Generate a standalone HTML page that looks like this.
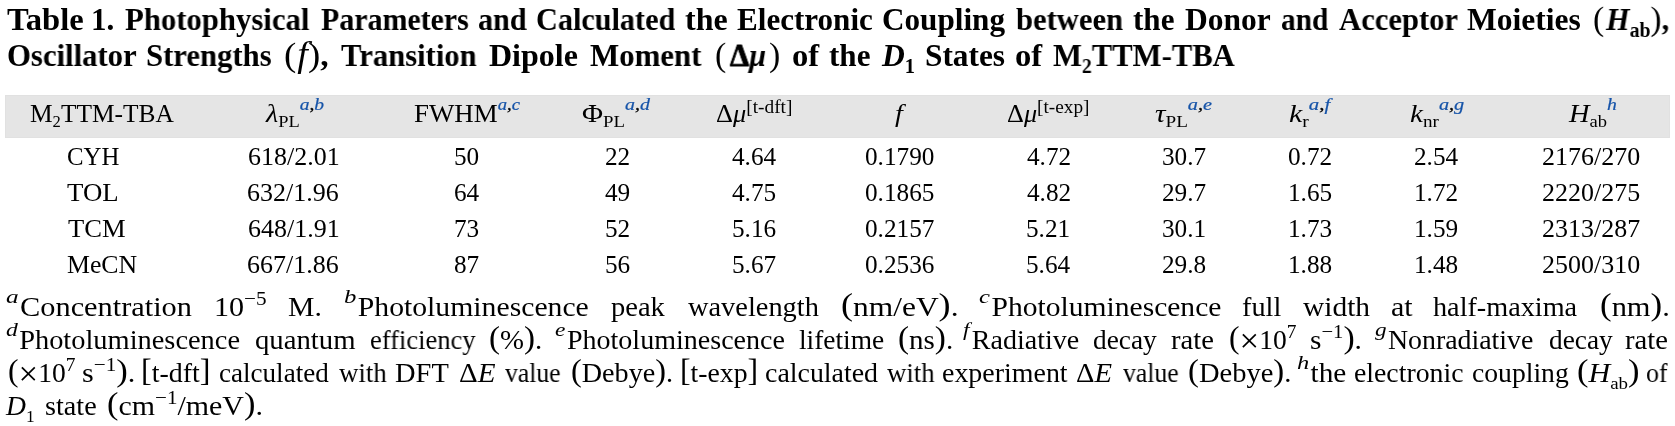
<!DOCTYPE html>
<html><head><meta charset="utf-8">
<style>
html,body{margin:0;padding:0;background:#fff;}
body{width:1675px;height:426px;position:relative;overflow:hidden;font-family:"Liberation Serif",serif;color:#000;}
.i{will-change:transform;position:absolute;line-height:0;white-space:nowrap;transform-origin:0 0;}
.T{font-weight:bold;font-size:31px;}
.C{font-size:24.5px;}
.F{font-size:27px;}
.band{position:absolute;left:5px;top:95px;width:1665px;height:43px;background:#e5e5e5;box-shadow:inset 0 0 0 1px #e1e1e1;}
.tsb{position:relative;top:7px;font-size:20px;}
.sb{position:relative;top:4.7px;font-size:16px;}
.sp{position:relative;top:-12px;font-size:17px;font-weight:normal;font-style:italic;color:#1553a8;-webkit-text-stroke:0.2px #1553a8;}
.sp b{color:#000;font-weight:normal;-webkit-text-stroke:0.3px #000;}
.spk{position:relative;top:-9.5px;font-size:18px;}
.fs{display:inline-block;position:relative;top:-13px;font-size:18px;font-style:italic;transform:scaleX(1.25);transform-origin:0 0;margin-right:3.5px;}
.fk{position:relative;top:-11.5px;font-size:19px;}
.fb{position:relative;top:6.5px;font-size:17px;}
.fn{position:absolute;line-height:0;white-space:nowrap;font-size:27px;left:7px;width:1661px;}
.j{text-align:justify;text-align-last:justify;}
.pn{font-weight:normal;font-size:34px;}
.nw{font-weight:normal;}
.x{position:relative;font-size:34px;top:3px;}
.fp{position:relative;font-size:31px;top:-1px;}
</style></head><body>
<div class="band"></div>
<div class="i T" style="left:7.00px;top:20.00px;transform:scaleX(1.0514);">Table</div>
<div class="i T" style="left:90.80px;top:20.00px;">1.</div>
<div class="i T" style="left:125.40px;top:20.00px;transform:scaleX(0.9909);">Photophysical</div>
<div class="i T" style="left:321.00px;top:20.00px;transform:scaleX(0.9651);">Parameters</div>
<div class="i T" style="left:478.03px;top:20.00px;transform:scaleX(0.9714);">and</div>
<div class="i T" style="left:536.43px;top:20.00px;transform:scaleX(0.9746);">Calculated</div>
<div class="i T" style="left:684.87px;top:20.00px;transform:scaleX(1.0325);">the</div>
<div class="i T" style="left:737.30px;top:20.00px;transform:scaleX(1.0030);">Electronic</div>
<div class="i T" style="left:881.69px;top:20.00px;transform:scaleX(1.0058);">Coupling</div>
<div class="i T" style="left:1015.60px;top:20.00px;transform:scaleX(0.9870);">between</div>
<div class="i T" style="left:1132.50px;top:20.00px;transform:scaleX(1.0025);">the</div>
<div class="i T" style="left:1185.00px;top:20.00px;transform:scaleX(1.0155);">Donor</div>
<div class="i T" style="left:1280.65px;top:20.00px;transform:scaleX(0.9469);">and</div>
<div class="i T" style="left:1338.50px;top:20.00px;transform:scaleX(0.9875);">Acceptor</div>
<div class="i T" style="left:1467.00px;top:20.00px;transform:scaleX(1.0180);">Moieties</div>
<div class="i T" style="left:1592.52px;top:19.00px;transform:scaleX(0.9803);"><span class="pn" style="margin-right:2px">(</span><i>H</i><span class="tsb">ab</span><span class="pn">)</span>,</div>
<div class="i T" style="left:6.51px;top:56.00px;transform:scaleX(0.9915);">Oscillator</div>
<div class="i T" style="left:146.02px;top:56.00px;transform:scaleX(0.9903);">Strengths</div>
<div class="i T" style="left:283.92px;top:55.00px;transform:scaleX(1.0846);"><span class="pn" style="margin-right:1px">(</span><i class="nw" style="font-size:35px">f</i><span class="pn">)</span>,</div>
<div class="i T" style="left:341.30px;top:56.00px;transform:scaleX(0.9883);">Transition</div>
<div class="i T" style="left:489.20px;top:56.00px;transform:scaleX(1.0329);">Dipole</div>
<div class="i T" style="left:589.50px;top:56.00px;transform:scaleX(0.9964);">Moment</div>
<div class="i T" style="left:714.52px;top:55.00px;transform:scaleX(0.9828);"><span class="pn" style="margin-right:4px">(</span><span style="-webkit-text-stroke:0.9px #000">Δ</span><i>μ</i><span class="pn" style="margin-left:3px">)</span></div>
<div class="i T" style="left:791.75px;top:56.00px;transform:scaleX(1.0520);">of</div>
<div class="i T" style="left:829.40px;top:56.00px;transform:scaleX(1.0025);">the</div>
<div class="i T" style="left:881.80px;top:56.00px;transform:scaleX(1.0188);"><i>D</i><span class="tsb">1</span></div>
<div class="i T" style="left:924.88px;top:56.00px;transform:scaleX(1.0104);">States</div>
<div class="i T" style="left:1014.95px;top:56.00px;transform:scaleX(1.0520);">of</div>
<div class="i T" style="left:1052.50px;top:56.00px;transform:scaleX(0.9880);">M<span class="tsb">2</span>TTM-TBA</div>
<div class="i C" style="left:30.26px;top:114.20px;transform:scaleX(1.0370);">M<span class="sb">2</span>TTM-TBA</div>
<div class="i C" style="left:265.55px;top:114.20px;transform:scaleX(1.1490);"><i>λ</i><span class="sb">PL</span><span class="sp">a<b>,</b>b</span></div>
<div class="i C" style="left:413.60px;top:114.20px;transform:scaleX(1.0979);">FWHM<span class="sp">a<b>,</b>c</span></div>
<div class="i C" style="left:582.33px;top:114.20px;transform:scaleX(1.1737);">Φ<span class="sb">PL</span><span class="sp">a<b>,</b>d</span></div>
<div class="i C" style="left:716.22px;top:114.20px;transform:scaleX(1.0754);">Δ<i>μ</i><span class="spk">[t-dft]</span></div>
<div class="i C" style="left:1007.13px;top:114.20px;transform:scaleX(1.0707);">Δ<i>μ</i><span class="spk">[t-exp]</span></div>
<div class="i C" style="left:1155.40px;top:114.20px;transform:scaleX(1.1957);"><i>τ</i><span class="sb">PL</span><span class="sp">a<b>,</b>e</span></div>
<div class="i C" style="left:1289.27px;top:114.20px;transform:scaleX(1.2257);"><i>k</i><span class="sb">r</span><span class="sp">a<b>,</b>f</span></div>
<div class="i C" style="left:1409.51px;top:114.20px;transform:scaleX(1.1932);"><i>k</i><span class="sb">nr</span><span class="sp">a<b>,</b>g</span></div>
<div class="i C" style="left:1568.60px;top:114.20px;transform:scaleX(1.1600);"><i>H</i><span class="sb">ab</span><span class="sp">h</span></div>
<div class="i C" style="left:894.55px;top:114.20px;transform:scaleX(1.1500);"><i>f</i></div>
<div class="i C" style="left:67.29px;top:157.00px;transform:scaleX(1.0120);">CYH</div>
<div class="i C" style="left:247.92px;top:157.00px;transform:scaleX(1.0600);">618/2.01</div>
<div class="i C" style="left:454.12px;top:157.00px;transform:scaleX(1.0300);">50</div>
<div class="i C" style="left:605.04px;top:157.00px;transform:scaleX(1.0300);">22</div>
<div class="i C" style="left:731.96px;top:157.00px;transform:scaleX(1.0300);">4.64</div>
<div class="i C" style="left:864.88px;top:157.00px;transform:scaleX(1.0300);">0.1790</div>
<div class="i C" style="left:1026.87px;top:157.00px;transform:scaleX(1.0300);">4.72</div>
<div class="i C" style="left:1162.36px;top:157.00px;transform:scaleX(1.0300);">30.7</div>
<div class="i C" style="left:1288.15px;top:157.00px;transform:scaleX(1.0300);">0.72</div>
<div class="i C" style="left:1413.94px;top:157.00px;transform:scaleX(1.0300);">2.54</div>
<div class="i C" style="left:1541.71px;top:157.00px;transform:scaleX(1.0600);">2176/270</div>
<div class="i C" style="left:67.40px;top:193.00px;transform:scaleX(1.0935);">TOL</div>
<div class="i C" style="left:247.39px;top:193.00px;transform:scaleX(1.0600);">632/1.96</div>
<div class="i C" style="left:454.12px;top:193.00px;transform:scaleX(1.0300);">64</div>
<div class="i C" style="left:605.04px;top:193.00px;transform:scaleX(1.0300);">49</div>
<div class="i C" style="left:732.47px;top:193.00px;transform:scaleX(1.0300);">4.75</div>
<div class="i C" style="left:864.88px;top:193.00px;transform:scaleX(1.0300);">0.1865</div>
<div class="i C" style="left:1026.87px;top:193.00px;transform:scaleX(1.0300);">4.82</div>
<div class="i C" style="left:1162.36px;top:193.00px;transform:scaleX(1.0300);">29.7</div>
<div class="i C" style="left:1287.64px;top:193.00px;transform:scaleX(1.0300);">1.65</div>
<div class="i C" style="left:1413.94px;top:193.00px;transform:scaleX(1.0300);">1.72</div>
<div class="i C" style="left:1541.71px;top:193.00px;transform:scaleX(1.0600);">2220/275</div>
<div class="i C" style="left:67.60px;top:229.00px;transform:scaleX(1.0846);">TCM</div>
<div class="i C" style="left:247.92px;top:229.00px;transform:scaleX(1.0600);">648/1.91</div>
<div class="i C" style="left:454.12px;top:229.00px;transform:scaleX(1.0300);">73</div>
<div class="i C" style="left:605.04px;top:229.00px;transform:scaleX(1.0300);">52</div>
<div class="i C" style="left:731.96px;top:229.00px;transform:scaleX(1.0300);">5.16</div>
<div class="i C" style="left:864.88px;top:229.00px;transform:scaleX(1.0300);">0.2157</div>
<div class="i C" style="left:1026.36px;top:229.00px;transform:scaleX(1.0300);">5.21</div>
<div class="i C" style="left:1162.36px;top:229.00px;transform:scaleX(1.0300);">30.1</div>
<div class="i C" style="left:1287.64px;top:229.00px;transform:scaleX(1.0300);">1.73</div>
<div class="i C" style="left:1413.94px;top:229.00px;transform:scaleX(1.0300);">1.59</div>
<div class="i C" style="left:1541.71px;top:229.00px;transform:scaleX(1.0600);">2313/287</div>
<div class="i C" style="left:66.55px;top:265.10px;transform:scaleX(1.0523);">MeCN</div>
<div class="i C" style="left:247.39px;top:265.10px;transform:scaleX(1.0600);">667/1.86</div>
<div class="i C" style="left:454.12px;top:265.10px;transform:scaleX(1.0300);">87</div>
<div class="i C" style="left:604.52px;top:265.10px;transform:scaleX(1.0300);">56</div>
<div class="i C" style="left:731.96px;top:265.10px;transform:scaleX(1.0300);">5.67</div>
<div class="i C" style="left:864.88px;top:265.10px;transform:scaleX(1.0300);">0.2536</div>
<div class="i C" style="left:1025.84px;top:265.10px;transform:scaleX(1.0300);">5.64</div>
<div class="i C" style="left:1162.36px;top:265.10px;transform:scaleX(1.0300);">29.8</div>
<div class="i C" style="left:1287.64px;top:265.10px;transform:scaleX(1.0300);">1.88</div>
<div class="i C" style="left:1413.94px;top:265.10px;transform:scaleX(1.0300);">1.48</div>
<div class="i C" style="left:1541.71px;top:265.10px;transform:scaleX(1.0600);">2500/310</div>
<div class="i F" style="left:6.38px;top:307.00px;transform:scaleX(1.1238);"><span class="fs">a</span>Concentration</div>
<div class="i F" style="left:214.27px;top:307.00px;transform:scaleX(1.1156);">10<span class="fk">−5</span></div>
<div class="i F" style="left:288.10px;top:307.00px;transform:scaleX(1.1000);">M.</div>
<div class="i F" style="left:343.90px;top:307.00px;transform:scaleX(1.1005);"><span class="fs">b</span>Photoluminescence</div>
<div class="i F" style="left:610.80px;top:307.00px;transform:scaleX(1.0569);">peak</div>
<div class="i F" style="left:687.50px;top:307.00px;transform:scaleX(1.0516);">wavelength</div>
<div class="i F" style="left:840.54px;top:306.00px;transform:scaleX(1.1643);"><span class="fp">(</span>nm/eV<span class="fp">)</span>.</div>
<div class="i F" style="left:978.91px;top:307.00px;transform:scaleX(1.0945);"><span class="fs">c</span>Photoluminescence</div>
<div class="i F" style="left:1241.75px;top:307.00px;transform:scaleX(1.0472);">full</div>
<div class="i F" style="left:1302.50px;top:307.00px;transform:scaleX(1.0902);">width</div>
<div class="i F" style="left:1390.59px;top:307.00px;transform:scaleX(1.1111);">at</div>
<div class="i F" style="left:1433.00px;top:307.00px;transform:scaleX(1.0449);">half-maxima</div>
<div class="i F" style="left:1599.87px;top:306.00px;transform:scaleX(1.1271);"><span class="fp">(</span>nm<span class="fp">)</span>.</div>
<div class="i F" style="left:5.95px;top:340.00px;transform:scaleX(1.0520);"><span class="fs">d</span>Photoluminescence</div>
<div class="i F" style="left:254.74px;top:340.00px;transform:scaleX(1.0645);">quantum</div>
<div class="i F" style="left:370.32px;top:340.00px;transform:scaleX(0.9821);">efficiency</div>
<div class="i F" style="left:489.43px;top:339.00px;transform:scaleX(1.0660);"><span class="fp">(</span>%<span class="fp">)</span>.</div>
<div class="i F" style="left:554.56px;top:340.00px;transform:scaleX(1.0382);"><span class="fs">e</span>Photoluminescence</div>
<div class="i F" style="left:798.89px;top:340.00px;transform:scaleX(1.0146);">lifetime</div>
<div class="i F" style="left:898.33px;top:339.00px;transform:scaleX(1.0735);"><span class="fp">(</span>ns<span class="fp">)</span>.</div>
<div class="i F" style="left:963.40px;top:340.00px;transform:scaleX(1.0369);"><span class="fs">f</span>Radiative</div>
<div class="i F" style="left:1093.19px;top:340.00px;transform:scaleX(1.0113);">decay</div>
<div class="i F" style="left:1170.84px;top:340.00px;transform:scaleX(1.0615);">rate</div>
<div class="i F" style="left:1228.58px;top:338.00px;transform:scaleX(1.0215);"><span class="fp">(</span><span class="x">×</span>10<span class="fk">7</span></div>
<div class="i F" style="left:1310.31px;top:339.00px;transform:scaleX(1.0867);">s<span class="fk">−1</span><span class="fp">)</span>.</div>
<div class="i F" style="left:1375.40px;top:340.00px;transform:scaleX(1.0320);"><span class="fs">g</span>Nonradiative</div>
<div class="i F" style="left:1548.59px;top:340.00px;transform:scaleX(1.0113);">decay</div>
<div class="i F" style="left:1625.04px;top:340.00px;transform:scaleX(1.0615);">rate</div>
<div class="i F" style="left:7.78px;top:370.80px;transform:scaleX(1.0215);"><span class="fp">(</span><span class="x">×</span>10<span class="fk">7</span></div>
<div class="i F" style="left:81.58px;top:371.80px;transform:scaleX(1.1156);">s<span class="fk">−1</span><span class="fp">)</span>.</div>
<div class="i F" style="left:140.83px;top:371.80px;transform:scaleX(1.0349);"><span class="fp">[</span>t-dft<span class="fp">]</span></div>
<div class="i F" style="left:219.20px;top:372.80px;transform:scaleX(1.0028);">calculated</div>
<div class="i F" style="left:338.50px;top:372.80px;transform:scaleX(0.9937);">with</div>
<div class="i F" style="left:395.25px;top:372.80px;transform:scaleX(1.0540);">DFT</div>
<div class="i F" style="left:458.62px;top:372.80px;transform:scaleX(1.0788);">Δ<i>E</i></div>
<div class="i F" style="left:505.40px;top:372.80px;transform:scaleX(0.9500);">value</div>
<div class="i F" style="left:570.76px;top:371.80px;transform:scaleX(1.0432);"><span class="fp">(</span>Debye<span class="fp">)</span>.</div>
<div class="i F" style="left:680.15px;top:371.80px;transform:scaleX(1.0264);"><span class="fp">[</span>t-exp<span class="fp">]</span></div>
<div class="i F" style="left:765.27px;top:372.80px;transform:scaleX(1.0333);">calculated</div>
<div class="i F" style="left:886.70px;top:372.80px;transform:scaleX(0.9917);">with</div>
<div class="i F" style="left:942.07px;top:372.80px;transform:scaleX(1.0342);">experiment</div>
<div class="i F" style="left:1076.14px;top:372.80px;transform:scaleX(1.0636);">Δ<i>E</i></div>
<div class="i F" style="left:1122.50px;top:372.80px;transform:scaleX(0.9517);">value</div>
<div class="i F" style="left:1187.94px;top:371.80px;transform:scaleX(1.0558);"><span class="fp">(</span>Debye<span class="fp">)</span>.</div>
<div class="i F" style="left:1296.72px;top:372.80px;transform:scaleX(1.0841);"><span class="fs">h</span>the</div>
<div class="i F" style="left:1354.27px;top:372.80px;transform:scaleX(1.0286);">electronic</div>
<div class="i F" style="left:1472.18px;top:372.80px;transform:scaleX(1.0237);">coupling</div>
<div class="i F" style="left:1577.39px;top:371.80px;transform:scaleX(1.1130);"><span class="fp">(</span><i>H</i><span class="fb">ab</span><span class="fp">)</span></div>
<div class="i F" style="left:1646.44px;top:372.80px;transform:scaleX(0.9591);">of</div>
<div class="i F" style="left:6.30px;top:406.00px;transform:scaleX(1.0222);"><i>D</i><span class="fb">1</span></div>
<div class="i F" style="left:45.36px;top:406.00px;transform:scaleX(1.0437);">state</div>
<div class="i F" style="left:106.69px;top:405.00px;transform:scaleX(1.1087);"><span class="fp">(</span>cm<span class="fk">−1</span>/meV<span class="fp">)</span>.</div>

</body></html>
